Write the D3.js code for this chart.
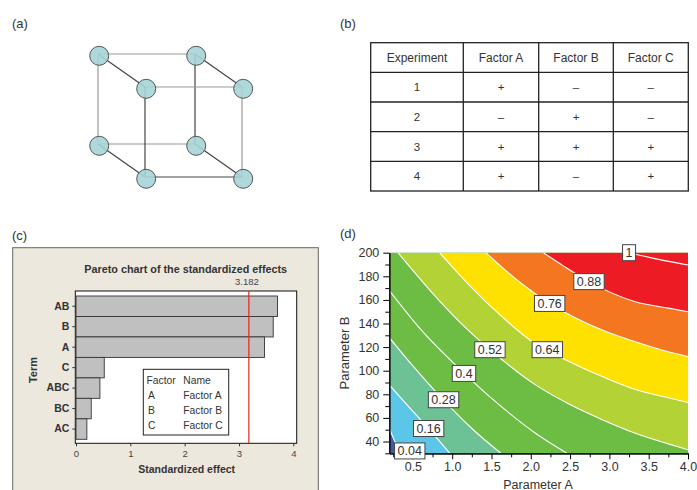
<!DOCTYPE html>
<html>
<head>
<meta charset="utf-8">
<script src="https://cdn.jsdelivr.net/npm/d3@7/dist/d3.min.js"></script>
<style>
  body { margin: 0; background: #fff; }
  text { font-family: "Liberation Sans", Arial, Helvetica, sans-serif; }
</style>
</head>
<body>
<svg id="fig" width="697" height="490"></svg>
<script>
// ---------- data ----------
// (a) 2^3 design, each vertex is [A, B, C] level
const cubeVertices = [[0,0,0],[1,0,0],[0,1,0],[1,1,0],[0,0,1],[1,0,1],[0,1,1],[1,1,1]];

// (b) table
const tableHeader = ['Experiment', 'Factor A', 'Factor B', 'Factor C'];
const experiments = ['1', '2', '3', '4'];
const factorA = ['+', '\u2013', '+', '+'];
const factorB = ['\u2013', '+', '+', '\u2013'];
const factorC = ['\u2013', '\u2013', '+', '+'];

// (c) pareto
const terms = ['AB', 'B', 'A', 'C', 'ABC', 'BC', 'AC'];
const effects = [3.71, 3.63, 3.47, 0.52, 0.44, 0.28, 0.20];
const criticalValue = 3.182;
const legendFactors = ['A', 'B', 'C'];
const legendNames = ['Factor A', 'Factor B', 'Factor C'];

// (d) contour lines, [Parameter A, Parameter B]
const contourLevels = [0.04, 0.16, 0.28, 0.4, 0.52, 0.64, 0.76, 0.88, 1];
const contour004 = [[0.2, 51], [0.27, 40], [0.34, 30]];
const contour016 = [[0.2, 88], [0.4, 73], [0.7, 51], [0.97, 30]];
const contour028 = [[0.2, 128], [0.5, 104], [0.89, 75], [1.25, 51], [1.62, 30]];
const contour040 = [[0.2, 168], [0.6, 135], [1.15, 98], [1.6, 71], [2.06, 47], [2.46, 30]];
const contour052 = [[0.31, 200], [0.8, 162], [1.1, 141], [1.48, 118], [2.06, 88], [2.48, 72], [2.91, 58.5], [3.33, 47], [3.75, 38], [4.0, 33]];
const contour064 = [[0.84, 200], [1.21, 173], [1.63, 146], [2.01, 125], [2.21, 117], [2.42, 110], [2.91, 95], [3.33, 84], [3.75, 77], [4.0, 73]];
const contour076 = [[1.43, 200], [1.75, 181], [2.0, 168], [2.24, 157], [2.42, 150], [2.91, 134.5], [3.33, 124.5], [3.75, 116], [4.0, 112]];
const contour088 = [[2.16, 200], [2.4, 189.5], [2.74, 175.5], [3.33, 158.5], [3.75, 153], [4.0, 150]];
const contour100 = [[3.22, 200], [3.37, 198], [3.7, 193.3], [4.0, 189.6]];
const contourLines = [contour004, contour016, contour028, contour040, contour052, contour064, contour076, contour088, contour100];
const labelPoints = [[0.46, 32], [0.70, 51], [0.89, 75.4], [1.15, 97.7], [1.48, 117.8], [2.21, 117.8], [2.24, 157], [2.74, 175.5], [3.25, 200]];
const labelText = ['0.04', '0.16', '0.28', '0.4', '0.52', '0.64', '0.76', '0.88', '1'];
const bandColors = ['#3c5ca8', '#5bc6e8', '#6cc195', '#6dbd45', '#6dbd45', '#b2d235', '#ffe100', '#f47621', '#ed1c24', '#ed1c24'];

const svg = d3.select('#fig');
const ink = '#333';

// panel labels
svg.selectAll('.plabel')
  .data([['(a)', 12, 28], ['(b)', 340, 28], ['(c)', 12, 240], ['(d)', 340, 238]])
  .enter().append('text')
  .attr('x', d => d[1]).attr('y', d => d[2])
  .attr('font-size', 13).attr('fill', ink)
  .text(d => d[0]);

// ---------- (a) cube ----------
const cx = d3.scaleLinear().domain([0, 1]).range([98, 195]);
const cy = d3.scaleLinear().domain([0, 1]).range([144, 54]);
const depthX = d3.scaleLinear().domain([0, 1]).range([0, 47]);
const depthY = d3.scaleLinear().domain([0, 1]).range([0, 33]);
const px = v => cx(v[0]) + depthX(v[2]);
const py = v => cy(v[1]) + depthY(v[2]);

let cubeEdges = [];
cubeVertices.forEach((v, i) => {
  cubeVertices.forEach((w, j) => {
    if (j > i) {
      let diff = 0, axis = -1;
      for (let k = 0; k < 3; k++) if (v[k] !== w[k]) { diff++; axis = k; }
      if (diff === 1) cubeEdges.push({v: v, w: w, axis: axis});
    }
  });
});

function edgeDark(e) {
  if (e.axis === 2) return true;                          // depth edges
  if (e.v[2] === 1 && e.w[2] === 1) return (e.axis === 1 && e.v[0] === 0) || (e.axis === 0 && e.v[1] === 0);
  return e.axis === 1 && e.v[0] === 1;                    // back right vertical
}

const gCube = svg.append('g');
gCube.selectAll('line').data(cubeEdges).enter().append('line')
  .attr('x1', d => px(d.v)).attr('y1', d => py(d.v))
  .attr('x2', d => px(d.w)).attr('y2', d => py(d.w))
  .attr('stroke', d => edgeDark(d) ? '#444' : '#9a9a9a')
  .attr('stroke-width', 1.2);

gCube.selectAll('circle').data(cubeVertices).enter().append('circle')
  .attr('cx', d => px(d) + 1.2).attr('cy', d => py(d) + 1.8)
  .attr('r', 9.5)
  .attr('fill', '#a6d4d7').attr('fill-opacity', 0.9)
  .attr('stroke', '#555').attr('stroke-width', 1);

// ---------- (b) table ----------
const colEdges = [370.7, 463.3, 538.7, 613.3, 688.3];
const rowBand = d3.scaleBand().domain(['h'].concat(experiments)).range([42.7, 191]);
const gTab = svg.append('g');
const tableRows = [tableHeader].concat(experiments.map((e, i) => [e, factorA[i], factorB[i], factorC[i]]));

gTab.append('rect')
  .attr('x', colEdges[0]).attr('y', rowBand.range()[0])
  .attr('width', colEdges[4] - colEdges[0]).attr('height', rowBand.range()[1] - rowBand.range()[0])
  .attr('fill', 'none').attr('stroke', '#222').attr('stroke-width', 1.3);
colEdges.slice(1, 4).forEach(xv => {
  gTab.append('line').attr('x1', xv).attr('x2', xv)
    .attr('y1', rowBand.range()[0]).attr('y2', rowBand.range()[1])
    .attr('stroke', '#222').attr('stroke-width', 1.3);
});
experiments.forEach(e => {
  gTab.append('line').attr('x1', colEdges[0]).attr('x2', colEdges[4])
    .attr('y1', rowBand(e)).attr('y2', rowBand(e))
    .attr('stroke', '#222').attr('stroke-width', 1.3);
});
tableRows.forEach((row, ri) => {
  const key = ri === 0 ? 'h' : experiments[ri - 1];
  row.forEach((cell, ci) => {
    gTab.append('text')
      .attr('x', (colEdges[ci] + colEdges[ci + 1]) / 2)
      .attr('y', rowBand(key) + rowBand.bandwidth() / 2 + 4)
      .attr('text-anchor', 'middle')
      .attr('font-size', ri === 0 ? 12 : 11.5)
      .attr('fill', ink)
      .text(cell);
  });
});

// ---------- (c) pareto ----------
const gPar = svg.append('g');
gPar.append('rect')
  .attr('x', 12.7).attr('y', 247.7).attr('width', 305.6).attr('height', 260)
  .attr('fill', '#ede8de').attr('stroke', '#666').attr('stroke-width', 1);

const xPar = d3.scaleLinear().domain([0, 4]).range([76, 293.3]);
const yPar = d3.scaleBand().domain(terms).range([296, 439.3]).padding(0);

gPar.append('rect')
  .attr('x', 75.3).attr('y', 291).attr('width', 296.7 - 75.3).attr('height', 443.3 - 291)
  .attr('fill', '#fff').attr('stroke', '#111').attr('stroke-width', 1);

gPar.selectAll('.bar').data(terms).enter().append('rect')
  .attr('class', 'bar')
  .attr('x', xPar(0)).attr('y', d => yPar(d))
  .attr('width', (d, i) => xPar(effects[i]) - xPar(0))
  .attr('height', yPar.bandwidth())
  .attr('fill', '#c0c0c0').attr('stroke', '#333').attr('stroke-width', 0.9);

gPar.append('line')
  .attr('x1', xPar(criticalValue)).attr('x2', xPar(criticalValue))
  .attr('y1', 291).attr('y2', 443.3)
  .attr('stroke', '#e8231f').attr('stroke-width', 1.2);
gPar.append('text')
  .attr('x', xPar(criticalValue) - 2).attr('y', 285)
  .attr('text-anchor', 'middle').attr('font-size', 9.5).attr('fill', '#444')
  .text(criticalValue.toFixed(3));

gPar.append('text')
  .attr('x', 185.7).attr('y', 273)
  .attr('text-anchor', 'middle').attr('font-size', 10.8).attr('font-weight', 'bold').attr('fill', ink)
  .text('Pareto chart of the standardized effects');

const xParAxis = gPar.append('g').attr('transform', 'translate(0,443.3)')
  .call(d3.axisBottom(xPar).ticks(4).tickSize(3).tickSizeOuter(0).tickFormat(d3.format('d')));
xParAxis.select('.domain').remove();
xParAxis.selectAll('text').attr('font-size', 9.5).attr('fill', '#444').attr('font-family', null).attr('dy', '0.85em');
xParAxis.selectAll('line').attr('stroke', '#333');

const yParAxis = gPar.append('g').attr('transform', 'translate(75.3,0)')
  .call(d3.axisLeft(yPar).tickSize(3).tickSizeOuter(0));
yParAxis.select('.domain').remove();
yParAxis.selectAll('text').attr('font-size', 10.5).attr('font-weight', 'bold').attr('fill', ink).attr('font-family', null);
yParAxis.selectAll('line').attr('stroke', '#333');

gPar.append('text')
  .attr('x', 186.7).attr('y', 473)
  .attr('text-anchor', 'middle').attr('font-size', 10.5).attr('font-weight', 'bold').attr('fill', ink)
  .text('Standardized effect');
gPar.append('text')
  .attr('transform', 'translate(37,370) rotate(-90)')
  .attr('text-anchor', 'middle').attr('font-size', 11).attr('font-weight', 'bold').attr('fill', ink)
  .text('Term');

// legend box
const gLeg = gPar.append('g');
gLeg.append('rect')
  .attr('x', 143.3).attr('y', 369.3).attr('width', 85.4).attr('height', 65.7)
  .attr('fill', '#fff').attr('stroke', '#222').attr('stroke-width', 1);
const legY = d3.scalePoint().domain(['head'].concat(legendFactors)).range([383.5, 428.5]);
gLeg.append('text').attr('x', 146.5).attr('y', legY('head')).attr('font-size', 10.3).attr('fill', ink).text('Factor');
gLeg.append('text').attr('x', 183.3).attr('y', legY('head')).attr('font-size', 10.3).attr('fill', ink).text('Name');
legendFactors.forEach((f, i) => {
  gLeg.append('text').attr('x', 148).attr('y', legY(f)).attr('font-size', 10.3).attr('fill', ink).text(f);
  gLeg.append('text').attr('x', 183.3).attr('y', legY(f)).attr('font-size', 10.3).attr('fill', ink).text(legendNames[i]);
});

// ---------- (d) contour ----------
const xC = d3.scaleLinear().domain([0.2, 4.0]).range([389.3, 688]);
const yC = d3.scaleLinear().domain([30, 200]).range([453.3, 252.7]);
const [xMin, xMax] = xC.domain();
const [yMin, yMax] = yC.domain();

const gCon = svg.append('g');
gCon.append('clipPath').attr('id', 'plotclip').append('rect')
  .attr('x', xC(xMin)).attr('y', yC(yMax))
  .attr('width', xC(xMax) - xC(xMin)).attr('height', yC(yMin) - yC(yMax));

const plot = gCon.append('g').attr('clip-path', 'url(#plotclip)');
const line = d3.line().x(d => xC(d[0])).y(d => yC(d[1])).curve(d3.curveMonotoneX);

function regionPath(pts) {
  const first = pts[0], last = pts[pts.length - 1];
  const extra = [];
  if (last[1] <= yMin + 0.01) extra.push([xMax, yMin]);
  extra.push([xMax, yMax]);
  if (first[0] <= xMin + 0.01) extra.push([xMin, yMax]);
  return line(pts) + extra.map(p => 'L' + xC(p[0]) + ',' + yC(p[1])).join('') + 'Z';
}

plot.append('rect')
  .attr('x', xC(xMin)).attr('y', yC(yMax))
  .attr('width', xC(xMax) - xC(xMin)).attr('height', yC(yMin) - yC(yMax))
  .attr('fill', bandColors[0]);

plot.selectAll('.band').data(contourLines).enter().append('path')
  .attr('class', 'band')
  .attr('d', d => regionPath(d))
  .attr('fill', (d, i) => bandColors[i + 1]);

plot.selectAll('.cline').data(contourLines).enter().append('path')
  .attr('class', 'cline')
  .attr('d', d => line(d))
  .attr('fill', 'none').attr('stroke', '#fff').attr('stroke-width', 1.1);

// axes
const tickFont = 12.5;
const yMajor = d3.range(40, 201, 20);
const yMinor = d3.range(30, 200, 20);
const xMajor = d3.range(0.5, 4.01, 0.5);
const xMinor = d3.range(0.25, 4.0, 0.5);

gCon.append('g').attr('transform', 'translate(' + xC(xMin) + ',0)')
  .call(d3.axisLeft(yC).tickValues(yMinor).tickSize(4).tickSizeOuter(0).tickFormat(''));
const yAx = gCon.append('g').attr('transform', 'translate(' + xC(xMin) + ',0)')
  .call(d3.axisLeft(yC).tickValues(yMajor).tickSize(6).tickSizeOuter(0));
yAx.selectAll('text').attr('font-size', tickFont).attr('fill', ink).attr('font-family', null).attr('dx', '-1');

gCon.append('g').attr('transform', 'translate(0,' + yC(yMin) + ')')
  .call(d3.axisBottom(xC).tickValues(xMinor).tickSize(4).tickSizeOuter(0).tickFormat(''));
const xAx = gCon.append('g').attr('transform', 'translate(0,' + yC(yMin) + ')')
  .call(d3.axisBottom(xC).tickValues(xMajor).tickSize(6).tickSizeOuter(0).tickFormat(d3.format('.1f')));
xAx.selectAll('text').attr('font-size', tickFont).attr('fill', ink).attr('font-family', null);
gCon.selectAll('.domain').attr('stroke', '#111').attr('stroke-width', 1.2);

gCon.append('text')
  .attr('transform', 'translate(349,353) rotate(-90)')
  .attr('text-anchor', 'middle').attr('font-size', 13).attr('fill', ink)
  .text('Parameter B');
gCon.append('text')
  .attr('x', 538).attr('y', 488.5)
  .attr('text-anchor', 'middle').attr('font-size', 12.5).attr('fill', ink)
  .text('Parameter A');

// contour labels
const gLab = gCon.append('g');
labelPoints.forEach((p, i) => {
  const t = gLab.append('text')
    .attr('x', xC(p[0])).attr('y', yC(p[1]) + 4.5)
    .attr('text-anchor', 'middle').attr('font-size', 12.5).attr('fill', ink)
    .text(labelText[i]);
  const bb = t.node().getBBox();
  gLab.insert('rect', 'text')
    .attr('x', bb.x - 3).attr('y', yC(p[1]) - 8)
    .attr('width', bb.width + 6).attr('height', 16)
    .attr('fill', '#fff').attr('stroke', '#444').attr('stroke-width', 1);
});
</script>
</body>
</html>
